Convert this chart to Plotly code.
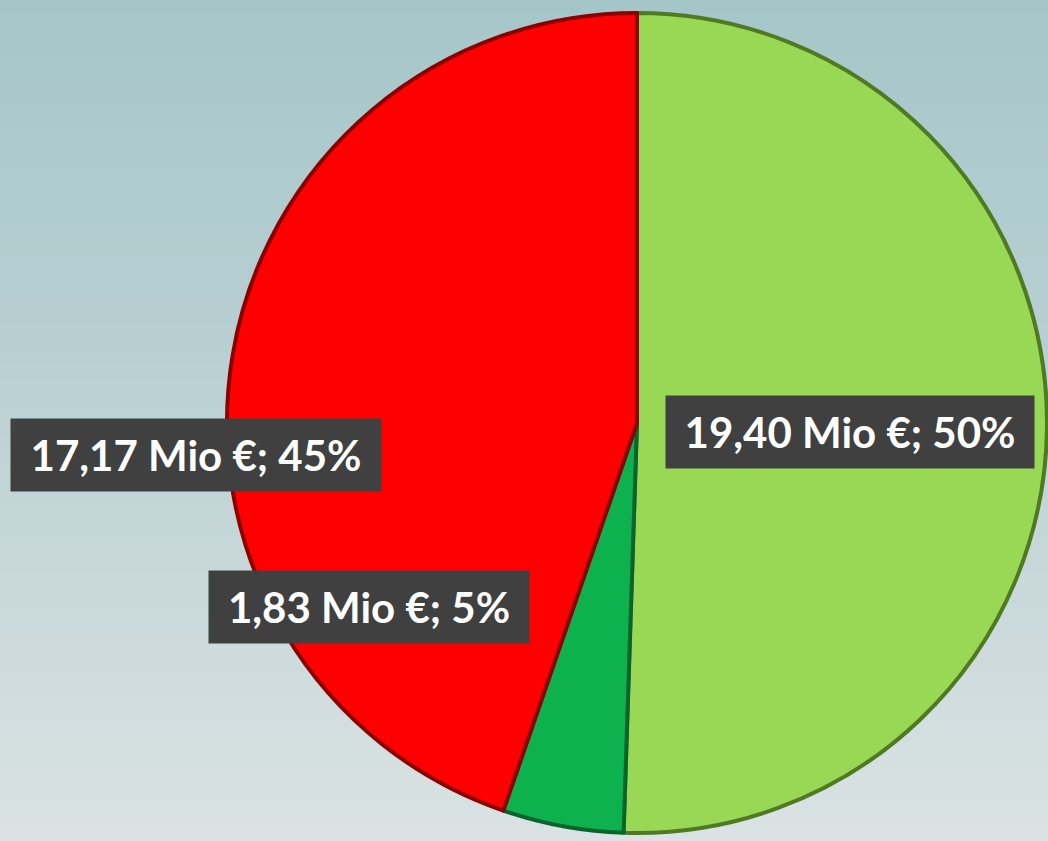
import plotly.graph_objects as go

# Data
categories = ["Kategorie A", "Kategorie B", "Kategorie C"]
values_mio = [19.40, 1.83, 17.17]
percent_labels = [50, 5, 45]
slice_colors = ["#98D855", "#0DB24F", "#FF0000"]
edge_colors = ["#4E7A22", "#06642C", "#8C0000"]

W, H = 1048, 841

def fmt(v):
    return f"{v:.2f}".replace(".", ",")

label_texts = [f"{fmt(v)} Mio €; {p}%" for v, p in zip(values_mio, percent_labels)]

# label box centers / sizes in pixels (layout)
label_boxes = [
    (850, 432, 366, 70),
    (369, 607, 318, 70),
    (196, 455, 368, 70),
]

fig = go.Figure()

# pie geometry (pixels)
cx, cy, r = 637, 423, 410
fig.add_trace(go.Pie(
    labels=categories,
    values=values_mio,
    sort=False,
    direction="clockwise",
    rotation=0,
    textinfo="none",
    hoverinfo="none",
    showlegend=False,
    marker=dict(colors=slice_colors, line=dict(color=edge_colors, width=4)),
    domain=dict(x=[(cx - r) / W, (cx + r) / W], y=[1 - (cy + r) / H, 1 - (cy - r) / H]),
))

# background gradient bands
top = (165, 198, 200)
mid = (184, 207, 210)
bot = (218, 226, 227)
n = 60
shapes = []
for i in range(n):
    t = (i + 0.5) / n
    if t < 0.4:
        u = t / 0.4
        c = [round(top[k] + (mid[k] - top[k]) * u) for k in range(3)]
    else:
        u = (t - 0.4) / 0.6
        c = [round(mid[k] + (bot[k] - mid[k]) * u) for k in range(3)]
    shapes.append(dict(type="rect", xref="paper", yref="paper", layer="below",
                       x0=0, x1=1, y0=1 - (i + 1) / n - 0.002, y1=1 - i / n,
                       fillcolor=f"rgb({c[0]},{c[1]},{c[2]})", line=dict(width=0)))

annotations = []
for text, (bx, by, bw, bh) in zip(label_texts, label_boxes):
    annotations.append(dict(
        text=f"<b>{text}</b>", xref="paper", yref="paper",
        x=bx / W, y=1 - by / H, xanchor="center", yanchor="middle",
        showarrow=False, width=bw, height=bh, bgcolor="#404040",
        font=dict(family="Lato", size=42, color="white"),
    ))

fig.update_layout(
    width=W, height=H,
    margin=dict(l=0, r=0, t=0, b=0),
    paper_bgcolor="#B8CFD2",
    plot_bgcolor="rgba(0,0,0,0)",
    shapes=shapes,
    annotations=annotations,
    xaxis=dict(visible=False), yaxis=dict(visible=False),
)

fig.write_html("out.html", config={"displayModeBar": False},
               post_script="document.body.style.margin='0';")
